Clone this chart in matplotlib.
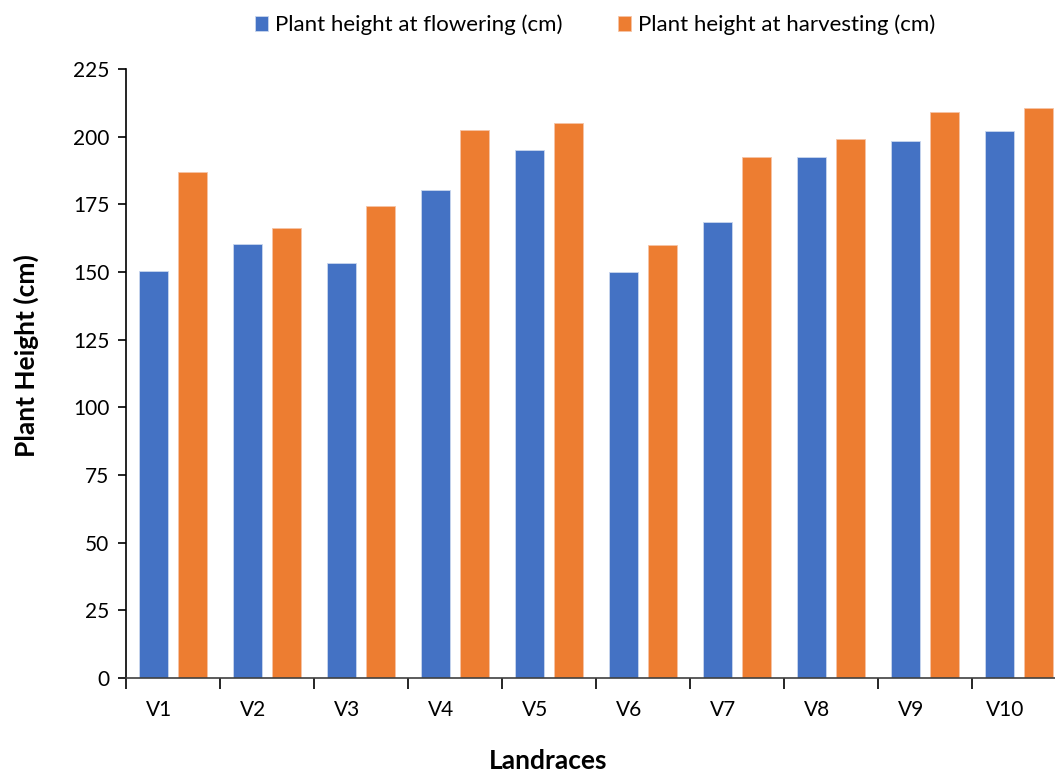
import matplotlib.pyplot as plt
import numpy as np

plt.rcParams['font.family'] = ['Lato', 'DejaVu Sans']

landraces = ["V1", "V2", "V3", "V4", "V5", "V6", "V7", "V8", "V9", "V10"]
flowering = [150.4, 160.3, 153.2, 180.3, 195.0, 149.9, 168.4, 192.6, 198.5, 202.1]
harvesting = [186.8, 166.3, 174.4, 202.3, 205.1, 160.0, 192.5, 199.3, 209.1, 210.6]
yticks = [0, 25, 50, 75, 100, 125, 150, 175, 200, 225]

fig = plt.figure(figsize=(10.55, 7.74), dpi=100)
# axes run a little past the right edge of the figure, the last bar is cut
ax = fig.add_axes([126 / 1055, 96 / 774, 940 / 1055, 609 / 774])

x = np.arange(len(landraces))
w = 0.31
gap = 0.096
ax.bar(x - (w + gap) / 2, flowering, w, color="#4472C4", edgecolor="#c9d6ee",
       linewidth=0.6, label="Plant height at flowering (cm)")
ax.bar(x + (w + gap) / 2, harvesting, w, color="#ED7D31", edgecolor="#f6c4a6",
       linewidth=0.6, label="Plant height at harvesting (cm)")

ax.set_xlim(-0.5, len(landraces) - 0.5)
ax.set_ylim(0, 225)
ax.set_yticks(yticks)
ax.tick_params(axis="y", labelsize=15, length=6, width=1.2, direction="out", pad=6)

# tick marks sit on the category boundaries, labels between them
ax.set_xticks(np.arange(len(landraces) + 1) - 0.5)
ax.set_xticklabels([])
ax.tick_params(axis="x", length=8, width=1.2, direction="out")
for i, name in enumerate(landraces):
    ax.text(i - 0.15, -0.053, name, transform=ax.get_xaxis_transform(),
            ha="center", va="center", fontsize=15)

for side in ["top", "right"]:
    ax.spines[side].set_visible(False)
ax.spines["left"].set_linewidth(1.2)
ax.spines["bottom"].set_linewidth(1.2)
ax.spines["bottom"].set_color("#404040")

fig.text(548 / 1055, 1 - 761 / 774, "Landraces", ha="center", va="center",
         fontsize=19, fontweight="bold")
fig.text(26 / 1055, 1 - 356 / 774, "Plant Height (cm)", ha="center", va="center",
         rotation=90, fontsize=19, fontweight="bold")

fig.legend(loc="center", bbox_to_anchor=(595 / 1055, 1 - 25 / 774), ncol=2,
           frameon=False, fontsize=16, handlelength=0.6, handleheight=0.6,
           handletextpad=0.3, columnspacing=2.5)

fig.savefig("out.png", dpi=100)
